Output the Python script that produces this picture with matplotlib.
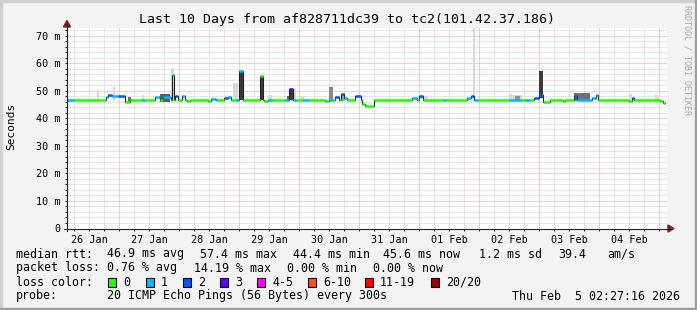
import matplotlib.pyplot as plt
from matplotlib.lines import Line2D
from matplotlib.patches import Rectangle, Polygon

plt.rcParams['font.family'] = 'DejaVu Sans Mono'

W, H = 697, 310

# median rtt as steps: start of each step in hours after the left edge, value in ms, lost pings (of 20)
step_start = [0.0, 2.8, 8.8, 10.8, 15.6, 16.4, 18.0, 20.4, 23.2, 25.2,
              30.0, 31.2, 35.2, 37.2, 38.4, 41.6, 42.0, 42.8, 43.2, 44.4,
              46.0, 47.2, 48.0, 49.2, 56.4, 57.6, 59.6, 62.8, 64.4, 65.6,
              67.6, 68.8, 70.4, 77.2, 78.4, 78.8, 80.4, 82.0, 87.2, 88.8,
              90.4, 91.6, 94.4, 96.8, 103.2, 104.8, 106.4, 107.2, 108.8, 109.6,
              110.8, 112.0, 115.2, 117.6, 118.0, 119.2, 122.8, 138.0, 140.0, 140.8,
              142.4, 150.8, 151.6, 160.0, 161.6, 162.8, 164.4, 176.8, 181.6, 183.2,
              185.2, 186.8, 188.8, 190.4, 193.2, 198.4, 199.2, 202.8, 204.0, 210.0,
              211.6, 212.4, 224.8, 226.0, 226.8, 237.2, 238.4]
step_end = 239.2
median_ms = [46.8, 46.8, 46.6, 46.8, 47.8, 48.5, 48.0, 48.0, 45.9, 46.8,
             46.8, 46.8, 47.8, 46.9, 47.9, 46.8, 55.9, 46.8, 48.0, 46.8,
             48.0, 46.8, 46.3, 46.8, 46.3, 47.0, 46.8, 47.6, 47.9, 46.8,
             46.8, 57.4, 46.8, 55.6, 46.8, 46.2, 46.8, 46.8, 46.8, 50.8,
             46.8, 46.8, 46.8, 46.8, 46.3, 46.8, 46.8, 47.8, 46.8, 48.8,
             47.3, 46.8, 48.0, 46.8, 45.3, 44.5, 46.8, 47.5, 46.8, 48.2,
             46.8, 46.8, 46.8, 47.5, 48.3, 46.8, 46.8, 46.6, 46.8, 46.8,
             46.8, 47.6, 48.5, 46.1, 46.8, 46.5, 46.8, 48.2, 46.9, 47.6,
             48.5, 46.8, 46.5, 47.3, 46.8, 46.2, 45.6]
lost = [1, 0, 0, 0, 1, 2, 1, 2, 0, 0,
        1, 0, 1, 0, 1, 0, 1, 0, 2, 0,
        1, 0, 0, 0, 0, 1, 0, 2, 1, 0,
        1, 1, 0, 0, 0, 0, 1, 0, 1, 3,
        1, 0, 1, 0, 0, 1, 0, 2, 0, 2,
        1, 0, 2, 1, 0, 0, 0, 1, 0, 2,
        0, 1, 0, 1, 2, 1, 0, 1, 0, 1,
        0, 2, 2, 0, 0, 0, 0, 2, 1, 1,
        1, 0, 0, 2, 0, 0, 0]

# smoke (spread of the pings) where it is visible
smoke_from = [12.0, 18.4, 30.0, 41.6, 66.4, 80.4, 90.4, 93.2, 162.4, 176.8,
              178.0, 206.4, 224.8, 235.2, 141.2, 110.0, 88.0,
              104.8, 37.2, 24.4, 202.8, 179.2,
              68.8, 77.2, 88.8, 188.8]
smoke_to = [12.8, 19.2, 30.8, 42.8, 68.4, 82.0, 91.6, 94.8, 163.2, 178.0,
            182.0, 209.2, 226.0, 236.4, 144.4, 111.2, 89.2,
            106.4, 41.2, 25.6, 209.2, 181.2,
            70.4, 78.4, 90.4, 190.4]
smoke_lo = [46.5, 46.5, 46.5, 46.5, 46.5, 46.5, 46.5, 46.9, 46.5, 46.5,
            47.0, 47.0, 47.0, 46.5, 47.0, 46.5, 46.8,
            46.8, 46.0, 45.8, 46.5, 46.5,
            46.8, 46.8, 46.8, 47.5]
smoke_hi = [50.2, 51.3, 48.5, 58.3, 52.9, 48.5, 50.6, 48.0, 73.0, 49.0,
            48.5, 48.8, 48.8, 48.5, 48.0, 49.0, 48.0,
            51.3, 49.0, 47.8, 49.2, 48.2,
            57.4, 55.6, 50.8, 57.4]
smoke_shade = ['#d8d8d8'] * 15 + ['#a0a0a0', '#666666',
               '#8a8a8a', '#606060', '#707070', '#707070', '#909090',
               '#3a3a3a', '#3a3a3a', '#3a3a3a', '#3a3a3a']

day_labels = ['26 Jan', '27 Jan', '28 Jan', '29 Jan', '30 Jan',
              '31 Jan', '01 Feb', '02 Feb', '03 Feb', '04 Feb']
first_midnight = 20.9

loss_names = ['0', '1', '2', '3', '4-5', '6-10', '11-19', '20/20']
loss_colors = ['#26ff00', '#00b8ff', '#0059ff', '#5e00ff',
               '#ff00ff', '#ff5500', '#ff0000', '#a10000']

rtt_stats = ['46.9 ms avg', '57.4 ms max', '44.4 ms min', '45.6 ms now', '1.2 ms sd', '39.4', 'am/s']
loss_stats = ['0.76 % avg', '14.19 % max', '0.00 % min', '0.00 % now']


def fx(x):
    return x / W


def fy(y):
    return 1 - y / H


fig = plt.figure(figsize=(W / 100, H / 100), dpi=100, facecolor='#f3f3f3')

# 3d frame
fig.patches.append(Rectangle((0, fy(2)), 1, 2 / H, transform=fig.transFigure, color='#cfcfcf', zorder=0))
fig.patches.append(Rectangle((0, 0), 2 / W, 1, transform=fig.transFigure, color='#cfcfcf', zorder=0))
fig.patches.append(Rectangle((0, 0), 1, 2 / H, transform=fig.transFigure, color='#9e9e9e', zorder=0))
fig.patches.append(Rectangle((fx(W - 2), 0), 2 / W, 1, transform=fig.transFigure, color='#9e9e9e', zorder=0))

ax = fig.add_axes([fx(67), fy(228.5), 600 / W, 200.5 / H])
ax.set_facecolor('white')
ax.set_xlim(0, 240)
ax.set_ylim(0, 72.9)
for s in ax.spines.values():
    s.set_visible(False)

dot = (0, (1, 1))
for v in range(2, 73, 2):
    if v % 10:
        ax.axhline(v, color='#d0d0d0', lw=0.72, ls=dot, zorder=0)
for v in range(10, 71, 10):
    ax.axhline(v, color='#e8a0a0', lw=0.72, ls=dot, zorder=0)
six_h = [first_midnight - 18 + 6 * k for k in range(40) if first_midnight - 18 + 6 * k < 240]
for h in six_h:
    if round((h - first_midnight) / 6) % 4:
        ax.axvline(h, color='#d0d0d0', lw=0.72, ls=dot, zorder=0)
    else:
        ax.axvline(h, color='#e8a0a0', lw=0.72, ls=dot, zorder=0)

# smoke
ax.bar(smoke_from, [hi - lo for lo, hi in zip(smoke_lo, smoke_hi)], bottom=smoke_lo,
       width=[b - a for a, b in zip(smoke_from, smoke_to)], align='edge',
       color=smoke_shade, linewidth=0, zorder=2)

# median
step_stop = step_start[1:] + [step_end]
ax.plot(step_start + [step_end], median_ms + [median_ms[-1]], drawstyle='steps-post',
        color='#202020', lw=0.8, zorder=3)
ax.hlines(median_ms, step_start, step_stop, colors=[loss_colors[n] for n in lost],
          lw=1.8, capstyle='butt', zorder=4)

ax.set_yticks(range(0, 71, 10))
ax.set_yticklabels(['0'] + ['%d m' % v for v in range(10, 71, 10)])
ax.set_yticks(range(0, 73, 2), minor=True)
ax.set_xticks([first_midnight - 12 + 24 * k for k in range(10)])
ax.set_xticklabels(day_labels)
ax.set_xticks(six_h, minor=True)
ax.tick_params(which='both', direction='out', length=1.5, width=0.7, color='#202020', labelsize=7.3)
ax.tick_params(axis='y', pad=3.5)
ax.tick_params(axis='x', pad=3)

# axes with arrows
fig.add_artist(Line2D([fx(64), fx(670)], [fy(228.5), fy(228.5)], color='#202020', lw=0.8))
fig.add_artist(Line2D([fx(67), fx(67)], [fy(231), fy(24)], color='#202020', lw=0.8))
fig.add_artist(Polygon([(fx(668), fy(225)), (fx(674), fy(228.5)), (fx(668), fy(232))],
                       closed=True, transform=fig.transFigure, color='#7f1f1f'))
fig.add_artist(Polygon([(fx(63.5), fy(27)), (fx(67), fy(20.5)), (fx(70.5), fy(27))],
                       closed=True, transform=fig.transFigure, color='#7f1f1f'))

fig.text(fx(346.7), fy(19), 'Last 10 Days from af828711dc39 to tc2(101.42.37.186)',
         ha='center', va='center', fontsize=9.5)
fig.text(fx(11), fy(126.5), 'Seconds', rotation=90, ha='center', va='center', fontsize=8)
fig.text(fx(687.5), fy(60), 'RRDTOOL / TOBI OETIKER', rotation=-90, ha='center', va='center',
         fontsize=6, color='#a8a8a8')

fs = 8.4
fig.text(fx(16), fy(254), 'median rtt:', va='center', fontsize=fs)
for x, s in zip([107, 200, 293, 383, 479, 558, 607], rtt_stats):
    fig.text(fx(x), fy(254), s, va='center', fontsize=fs)
fig.text(fx(16), fy(268), 'packet loss:', va='center', fontsize=fs)
for x, s in zip([107, 194, 287, 373], loss_stats):
    fig.text(fx(x), fy(268), s, va='center', fontsize=fs)
fig.text(fx(16), fy(282), 'loss color:', va='center', fontsize=fs)
box_x = [108, 146, 183, 220, 257, 308, 365, 431]
for x, name, c in zip(box_x, loss_names, loss_colors):
    fig.patches.append(Rectangle((fx(x), fy(286.5)), 8 / W, 9 / H, transform=fig.transFigure,
                                 facecolor=c, edgecolor='black', lw=0.8))
    fig.text(fx(x + 15), fy(282), name, va='center', fontsize=fs)
fig.text(fx(16), fy(296), 'probe:', va='center', fontsize=fs)
fig.text(fx(107), fy(296), '20 ICMP Echo Pings (56 Bytes) every 300s', va='center', fontsize=fs)
fig.text(fx(680.5), fy(296), 'Thu Feb  5 02:27:16 2026', ha='right', va='center', fontsize=fs)

fig.savefig('out.png', dpi=100, facecolor=fig.get_facecolor())
